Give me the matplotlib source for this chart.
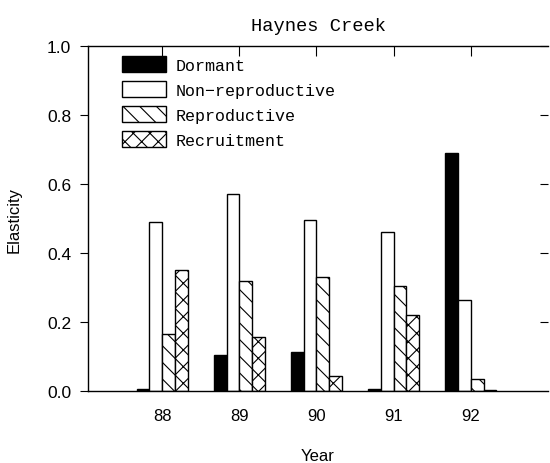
import matplotlib
matplotlib.use("Agg")
import matplotlib.pyplot as plt
import numpy as np

# data
years = [88, 89, 90, 91, 92]
stages = ["Dormant", "Non\u2212reproductive", "Reproductive", "Recruitment"]
dormant = [0.005, 0.104, 0.113, 0.005, 0.69]
non_reproductive = [0.49, 0.57, 0.495, 0.46, 0.265]
reproductive = [0.165, 0.32, 0.33, 0.305, 0.035]
recruitment = [0.35, 0.157, 0.045, 0.222, 0.004]

mono = "Liberation Mono"
sans = "Liberation Sans"
plt.rcParams["hatch.linewidth"] = 0.8

fig = plt.figure(figsize=(5.5, 4.64), dpi=100)
ax = fig.add_axes([0.16, 0.155, 0.8364, 0.7433])

width = 0.165
x = np.array(years, dtype=float)
series = [dormant, non_reproductive, reproductive, recruitment]
faces = ["black", "white", "white", "white"]
hatches = [None, None, "\\\\", "xx"]

for i, (vals, fc, h) in enumerate(zip(series, faces, hatches)):
    ax.bar(x + (i - 1.5) * width, vals, width=width, color=fc,
           edgecolor="black", linewidth=1.0, hatch=h, label=stages[i])

ax.set_xlim(87.04, 93.0)
ax.set_ylim(0, 1.0)

ax.set_xticks(years)
ax.set_xticklabels([str(y) for y in years], fontfamily=sans, fontsize=12)
ax.tick_params(axis="x", bottom=False, top=True, labelbottom=True,
               direction="in", length=7, width=0.8, pad=12)

ax.set_yticks(np.arange(0, 1.01, 0.2))
ax.set_yticklabels([f"{v:.1f}" for v in np.arange(0, 1.01, 0.2)],
                   fontfamily=sans, fontsize=12.5)
ax.tick_params(axis="y", left=True, right=False, direction="out",
               length=6, width=0.8, pad=6)

# inward ticks on the right side, no spine
sec = ax.secondary_yaxis("right")
sec.set_yticks([0.2, 0.4, 0.6, 0.8, 1.0])
sec.tick_params(direction="in", length=6, width=0.8, labelright=False)
sec.spines["right"].set_visible(False)
ax.spines["right"].set_visible(False)
for s in ["left", "top", "bottom"]:
    ax.spines[s].set_linewidth(1.0)

ax.set_title("Haynes Creek", fontfamily=mono, fontsize=13.5, pad=12)
ax.set_xlabel("Year", fontfamily=sans, fontsize=12, labelpad=18)
ax.set_ylabel("Elasticity", fontfamily=sans, fontsize=12, labelpad=18)

leg = ax.legend(loc="upper left", bbox_to_anchor=(0.06, 0.99),
                frameon=False, prop={"family": mono, "size": 12},
                handlelength=2.6, handleheight=1.1, handletextpad=0.6,
                labelspacing=0.5, borderaxespad=0)

fig.savefig("out.png", dpi=100)
